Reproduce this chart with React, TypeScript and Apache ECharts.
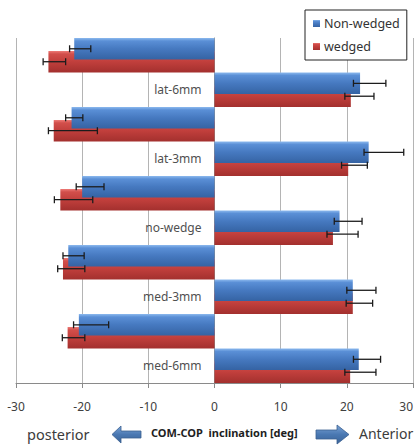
import React, { useEffect, useRef } from "react";
import * as echarts from "echarts";

// Rows from top to bottom: each condition has a posterior (negative) row and an anterior (positive) row
const conditions = ["lat-6mm", "lat-3mm", "no-wedge", "med-3mm", "med-6mm"];
const rowKeys = conditions.flatMap((c) => [c + " (posterior)", c]);

const nonWedged = [-21.2, 22.0, -21.6, 23.3, -20.0, 18.9, -22.1, 20.9, -20.5, 21.8];
const wedged = [-25.1, 20.6, -24.3, 20.2, -23.3, 17.9, -22.9, 20.9, -22.2, 20.5];

const nonWedgedErrLow = [-21.9, 21.0, -22.5, 22.6, -20.9, 18.1, -22.9, 20.0, -21.3, 21.0];
const nonWedgedErrHigh = [-18.7, 25.9, -19.9, 28.6, -16.7, 22.3, -19.7, 24.4, -16.0, 25.1];
const wedgedErrLow = [-25.9, 19.7, -25.1, 19.2, -24.2, 17.0, -23.7, 19.9, -23.0, 19.7];
const wedgedErrHigh = [-22.5, 24.1, -17.7, 23.1, -18.4, 21.7, -19.6, 23.9, -19.6, 24.4];

const xTicks = { min: -30, max: 30, interval: 10 };

const blueFill = new echarts.graphic.LinearGradient(0, 0, 0, 1, [
  { offset: 0, color: "#8cb9ee" },
  { offset: 0.14, color: "#5a8fd6" },
  { offset: 0.5, color: "#4679c0" },
  { offset: 1, color: "#3563a3" },
]);
const redFill = new echarts.graphic.LinearGradient(0, 0, 0, 1, [
  { offset: 0, color: "#ee7c78" },
  { offset: 0.14, color: "#d24f4b" },
  { offset: 0.5, color: "#c13f3c" },
  { offset: 1, color: "#a3302e" },
]);
const arrowFill = new echarts.graphic.LinearGradient(0, 0, 0, 1, [
  { offset: 0, color: "#7aa3d6" },
  { offset: 0.5, color: "#4a78b2" },
  { offset: 1, color: "#3a6398" },
]);

function errSeries(name: string, low: number[], high: number[], sign: number, z: number) {
  return {
    type: "custom",
    name: name + " err",
    z,
    silent: true,
    encode: { x: [0, 1], y: 2 },
    data: low.map((l, i) => [l, high[i], i]),
    renderItem: (_params: any, api: any) => {
      const lo = api.value(0);
      const hi = api.value(1);
      const idx = api.value(2);
      const band = api.size([0, 1])[1];
      const off = sign * band * 0.1875;
      const p1 = api.coord([lo, idx]);
      const p2 = api.coord([hi, idx]);
      const y = p1[1] + off;
      const style = { stroke: "#1c1c1c", lineWidth: 1.3 };
      return {
        type: "group",
        children: [
          { type: "line", shape: { x1: p1[0], y1: y, x2: p2[0], y2: y }, style },
          { type: "line", shape: { x1: p1[0], y1: y - 3.5, x2: p1[0], y2: y + 3.5 }, style },
          { type: "line", shape: { x1: p2[0], y1: y - 3.5, x2: p2[0], y2: y + 3.5 }, style },
        ],
      };
    },
  };
}

const GRID_LEFT = 16;
const GRID_RIGHT = 4;
const GRID_WIDTH = 417 - GRID_LEFT - GRID_RIGHT;

export default function App() {
  const ref = useRef<HTMLDivElement>(null);
  useEffect(() => {
    if (!ref.current) return;
    const chart = echarts.init(ref.current, undefined, { renderer: "svg" });
    const font = "'Noto Sans', sans-serif";
    // zero of the value axis, where the category axis sits
    const zeroOffset = -GRID_WIDTH * ((0 - xTicks.min) / (xTicks.max - xTicks.min));
    chart.setOption({
      animation: false,
      backgroundColor: "#ffffff",
      textStyle: { fontFamily: font },
      grid: {
        left: GRID_LEFT,
        right: GRID_RIGHT,
        top: 38,
        bottom: 63,
        containLabel: false,
        outerBoundsMode: "none",
      },
      legend: {
        orient: "vertical",
        left: 305,
        top: 10,
        padding: [7, 7, 7, 8],
        itemGap: 10,
        itemWidth: 7,
        itemHeight: 7,
        icon: "rect",
        backgroundColor: "#ffffff",
        borderColor: "#222222",
        borderWidth: 1,
        textStyle: { fontSize: 12.5, color: "#333333", fontFamily: font, padding: [0, 0, 0, -1] },
        data: ["Non-wedged", "wedged"],
        z: 10,
      },
      xAxis: {
        type: "value",
        min: xTicks.min,
        max: xTicks.max,
        interval: xTicks.interval,
        axisLine: { show: true, lineStyle: { color: "#8a8a8a" } },
        axisTick: { show: true, length: 5, lineStyle: { color: "#8a8a8a" } },
        axisLabel: {
          fontSize: 12,
          color: "#404040",
          margin: 17,
          fontFamily: font,
          alignMaxLabel: "right",
        },
        splitLine: { show: true, lineStyle: { color: "#b4b4b4" } },
      },
      yAxis: {
        type: "category",
        inverse: true,
        position: "left",
        offset: zeroOffset,
        data: rowKeys,
        axisLine: { show: true, onZero: false, lineStyle: { color: "#8a8a8a" } },
        axisTick: { show: false },
        axisLabel: {
          fontSize: 12,
          color: "#505050",
          margin: 13,
          interval: 0,
          fontFamily: font,
          formatter: (v: string) => (v.indexOf("(posterior)") >= 0 ? "" : v),
        },
        splitLine: { show: false },
      },
      series: [
        {
          type: "bar",
          name: "Non-wedged",
          data: nonWedged,
          z: 3,
          barCategoryGap: "0%",
          barGap: "-40%",
          itemStyle: { color: blueFill },
        },
        {
          type: "bar",
          name: "wedged",
          data: wedged,
          z: 2,
          barCategoryGap: "0%",
          barGap: "-40%",
          itemStyle: { color: redFill },
        },
        errSeries("Non-wedged", nonWedgedErrLow, nonWedgedErrHigh, -1, 5),
        errSeries("wedged", wedgedErrLow, wedgedErrHigh, 1, 4),
      ],
      graphic: [
        {
          type: "text",
          left: 27,
          top: 426,
          style: { text: "posterior", fontSize: 14.5, fill: "#3c3c3c", fontFamily: font },
        },
        {
          type: "polygon",
          shape: {
            points: [
              [112, 434.5],
              [121, 426],
              [121, 431],
              [141, 431],
              [141, 438],
              [121, 438],
              [121, 443],
            ],
          },
          style: { fill: arrowFill, stroke: "#3a6090", lineWidth: 0.8 },
        },
        {
          type: "text",
          left: 151,
          top: 427,
          style: {
            text: "COM-COP  inclination [deg]",
            fontSize: 11,
            fontWeight: "bold",
            fill: "#1e1e1e",
            fontFamily: font,
          },
        },
        {
          type: "polygon",
          shape: {
            points: [
              [349, 434.5],
              [337, 425],
              [337, 430],
              [316, 430],
              [316, 439],
              [337, 439],
              [337, 444],
            ],
          },
          style: { fill: arrowFill, stroke: "#3a6090", lineWidth: 0.8 },
        },
        {
          type: "text",
          left: 359,
          top: 426,
          style: { text: "Anterior", fontSize: 14, fill: "#3c3c3c", fontFamily: font },
        },
      ],
    });
    return () => chart.dispose();
  }, []);
  return (
    <div
      ref={ref}
      style={{ position: "fixed", left: 0, top: 0, width: 417, height: 446, background: "#fff" }}
    />
  );
}
